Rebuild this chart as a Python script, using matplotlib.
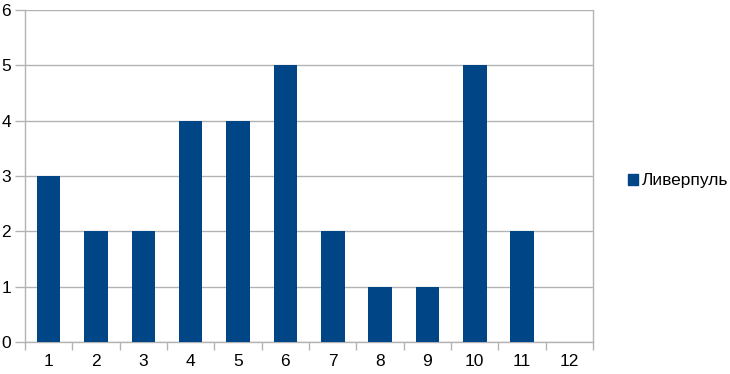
import numpy as np
import matplotlib.pyplot as plt
from matplotlib.patches import Patch

plt.rcParams['font.family'] = ['Liberation Sans', 'DejaVu Sans']

categories = ['1', '2', '3', '4', '5', '6', '7', '8', '9', '10', '11', '12']
values = [3, 2, 2, 4, 4, 5, 2, 1, 1, 5, 2, 0]
series_name = 'Ливерпуль'
bar_color = '#004586'
grid_color = '#b3b3b3'

fig = plt.figure(figsize=(7.3, 3.74), dpi=100)
ax = fig.add_axes([25 / 730, 32 / 374, 568 / 730, 332 / 374])

x = np.arange(len(categories))
ax.bar(x, values, width=0.5, color=bar_color, zorder=3)

ax.set_xlim(-0.5, len(categories) - 0.5)
ax.set_ylim(0, 6)
ax.set_yticks(range(0, 7))
ax.yaxis.grid(True, color=grid_color, linewidth=1, zorder=0)

ax.set_xticks(x)
ax.set_xticklabels(categories)
ax.set_xticks(np.arange(-0.5, len(categories) + 0.5, 1), minor=True)
ax.tick_params(axis='x', which='major', length=0, pad=9, labelsize=12.5)
ax.tick_params(axis='x', which='minor', length=6, color=grid_color, width=1)
ax.tick_params(axis='y', length=7, color=grid_color, width=1, pad=3, labelsize=12.5)

for s in ['left', 'bottom', 'right']:
    ax.spines[s].set_color(grid_color)
    ax.spines[s].set_linewidth(1)
ax.spines['top'].set_visible(False)

handle = Patch(facecolor=bar_color, edgecolor=bar_color)
fig.legend([handle], [series_name], loc='center left', bbox_to_anchor=(612 / 730, 1 - 181 / 374),
           frameon=False, handlelength=0.6, handleheight=0.6, handletextpad=0.2, fontsize=12.5)

fig.savefig('out.png', dpi=100)
